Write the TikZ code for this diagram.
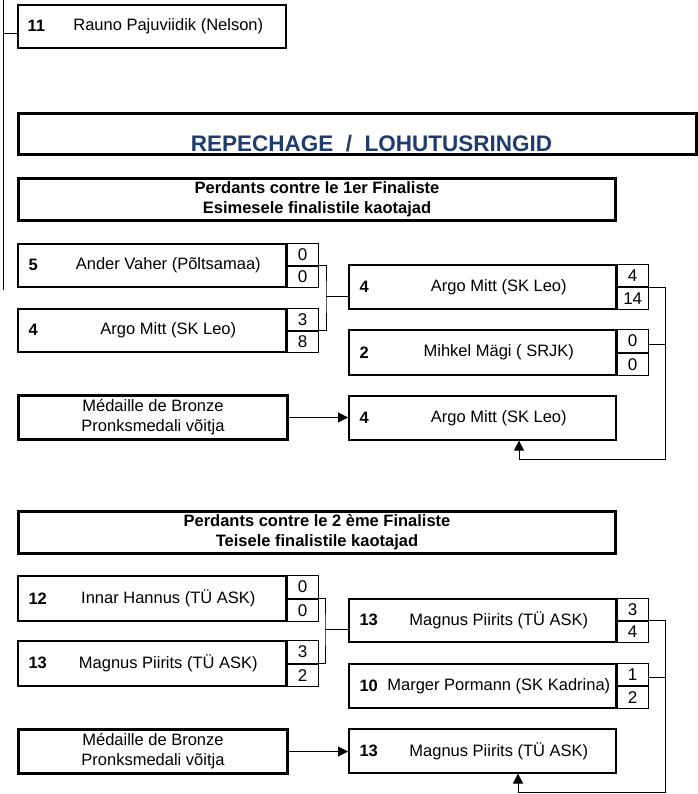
\documentclass[tikz,border=0pt]{standalone}
\usepackage{fontspec}
\setmainfont{Liberation Sans}
\usepackage{tikz}
\usetikzlibrary{arrows.meta}
\definecolor{ink}{HTML}{000000}
\definecolor{navy}{HTML}{1F3C6E}
\tikzset{
  plbox/.style={draw=ink, line width=1.6pt, anchor=north west, inner sep=0pt,
    minimum width=268pt, minimum height=43pt},
  winbox/.style={plbox, minimum width=267pt},
  medal/.style={draw=ink, line width=3pt, anchor=north west, inner sep=0pt,
    minimum width=269pt, minimum height=44pt, align=center,
    font=\fontsize{16.5}{20}\selectfont},
  head/.style={draw=ink, line width=3pt, anchor=north west, inner sep=0pt,
    minimum width=597pt, minimum height=42pt, align=center,
    font=\bfseries\fontsize{16.5}{20}\selectfont},
  cell/.style={draw=ink, line width=1.2pt, anchor=north west, inner sep=0pt,
    minimum width=31pt, minimum height=21.5pt, font=\fontsize{17}{18}\selectfont},
  num/.style={anchor=west, font=\bfseries\fontsize{16.5}{18}\selectfont},
  nm/.style={font=\fontsize{16.5}{18}\selectfont},
  wire/.style={draw=ink, line width=1pt},
  tip/.style={wire, -{Triangle[length=10pt,width=10pt]}},
}

\begin{document}
\begin{tikzpicture}[x=1pt, y=-1pt]
  \useasboundingbox (0,0) rectangle (697,794);

  % top of the main bracket
  \node[plbox] (r11) at (17,4) {};
  \node[num] at ([xshift=7pt]r11.west) {11};
  \node[nm] at ([xshift=16.5pt]r11.center) {Rauno Pajuviidik (Nelson)};
  \coordinate (lt) at (3,0);
  \coordinate (lb) at (3,290);
  \draw[wire] (lt) -- (lb);
  \draw[wire] (lt |- 0,34) -- (r11.west |- 0,34);

  % title
  \node[draw=ink, line width=3pt, anchor=north west, minimum width=678pt,
    minimum height=41pt] (rep) at (17,112) {};
  \node[text=navy, font=\bfseries\fontsize{22.5}{24}\selectfont]
    at ([xshift=14pt,yshift=-10pt]rep.center) {REPECHAGE~~/~~LOHUTUSRINGID};

  % first group
  \node[head] (h1) at (17,177) {Perdants contre le 1er Finaliste\\Esimesele finalistile kaotajad};

  \node[plbox] (r5) at (17,243) {};
  \node[num] at ([xshift=8pt]r5.west) {5};
  \node[nm] at ([xshift=16.5pt]r5.center) {Ander Vaher (Põltsamaa)};
  \node[cell] (s5a) at (r5.north east) {0};
  \node[cell] (s5b) at (s5a.south west) {0};

  \node[plbox] (r4) at (17,308) {};
  \node[num] at ([xshift=8pt]r4.west) {4};
  \node[nm] at ([xshift=16.5pt]r4.center) {Argo Mitt (SK Leo)};
  \node[cell] (s4a) at (r4.north east) {3};
  \node[cell] (s4b) at (s4a.south west) {8};

  \node[winbox, minimum height=44pt] (q4) at (348,264) {};
  \node[num] at ([xshift=8pt]q4.west) {4};
  \node[nm] at ([xshift=16.5pt]q4.center) {Argo Mitt (SK Leo)};
  \node[cell, minimum height=22pt] (t4a) at (q4.north east) {4};
  \node[cell, minimum height=22pt] (t4b) at (t4a.south west) {14};

  \node[winbox, minimum height=45pt] (q2) at (348,329) {};
  \node[num] at ([xshift=8pt]q2.west) {2};
  \node[nm] at ([xshift=16.5pt]q2.center) {Mihkel Mägi ( SRJK)};
  \node[cell, minimum height=22.5pt] (t2a) at (q2.north east) {0};
  \node[cell, minimum height=22.5pt] (t2b) at (t2a.south west) {0};

  \node[medal] (m1) at (17,394) {Médaille de Bronze\\Pronksmedali võitja};
  \node[winbox, minimum height=44pt] (b1) at (348,395) {};
  \node[num] at ([xshift=8pt]b1.west) {4};
  \node[nm] at ([xshift=16.5pt]b1.center) {Argo Mitt (SK Leo)};

  \coordinate (j1) at (326,296);
  \draw[wire] (s5a.south east) -| (j1) |- (s4a.south east);
  \draw[wire] (j1) -- (j1 -| q4.west);
  \coordinate (c1) at (665,459);
  \coordinate (a1) at (519,459);
  \draw[wire] (t4a.south east) -| (c1) -- (a1);
  \draw[wire] ([yshift=-3.5pt]t2a.east) -- ([yshift=-3.5pt]t2a.east -| c1);
  \draw[tip] (a1) -- (a1 |- b1.south);
  \draw[tip] (m1.east) -- (m1.east -| b1.west);

  % second group
  \node[head] (h2) at (17,510) {Perdants contre le 2 ème Finaliste\\Teisele finalistile kaotajad};

  \node[plbox, minimum height=45pt] (r12) at (17,575) {};
  \node[num] at ([xshift=8pt]r12.west) {12};
  \node[nm] at ([xshift=16.5pt]r12.center) {Innar Hannus (TÜ ASK)};
  \node[cell, minimum height=22.5pt] (s12a) at (r12.north east) {0};
  \node[cell, minimum height=22.5pt] (s12b) at (s12a.south west) {0};

  \node[plbox, minimum height=45pt] (r13) at (17,640) {};
  \node[num] at ([xshift=8pt]r13.west) {13};
  \node[nm] at ([xshift=16.5pt]r13.center) {Magnus Piirits (TÜ ASK)};
  \node[cell, minimum height=22.5pt] (s13a) at (r13.north east) {3};
  \node[cell, minimum height=22.5pt] (s13b) at (s13a.south west) {2};

  \node[winbox] (q13) at (348,598) {};
  \node[num] at ([xshift=8pt]q13.west) {13};
  \node[nm] at ([xshift=16.5pt]q13.center) {Magnus Piirits (TÜ ASK)};
  \node[cell] (t13a) at (q13.north east) {3};
  \node[cell] (t13b) at (t13a.south west) {4};

  \node[winbox, minimum height=44pt] (q10) at (348,663) {};
  \node[num] at ([xshift=8pt]q10.west) {10};
  \node[nm] at ([xshift=16.5pt]q10.center) {Marger Pormann (SK Kadrina)};
  \node[cell, minimum height=22pt] (t10a) at (q10.north east) {1};
  \node[cell, minimum height=22pt] (t10b) at (t10a.south west) {2};

  \node[medal] (m2) at (17,728) {Médaille de Bronze\\Pronksmedali võitja};
  \node[winbox, minimum height=44pt] (b2) at (348,728) {};
  \node[num] at ([xshift=8pt]b2.west) {13};
  \node[nm] at ([xshift=16.5pt]b2.center) {Magnus Piirits (TÜ ASK)};

  \coordinate (j2) at (325,629);
  \draw[wire] (s12a.south east) -| (j2) |- (s13a.south east);
  \draw[wire] (j2) -- (j2 -| q13.west);
  \coordinate (c2) at (665,792);
  \coordinate (a2) at (518,792);
  \draw[wire] (t13a.south east) -| (c2) -- (a2);
  \draw[wire] ([yshift=-3pt]t10a.east) -- ([yshift=-3pt]t10a.east -| c2);
  \draw[tip] (a2) -- (a2 |- b2.south);
  \draw[tip] (m2.east) -- (m2.east -| b2.west);
\end{tikzpicture}
\end{document}
